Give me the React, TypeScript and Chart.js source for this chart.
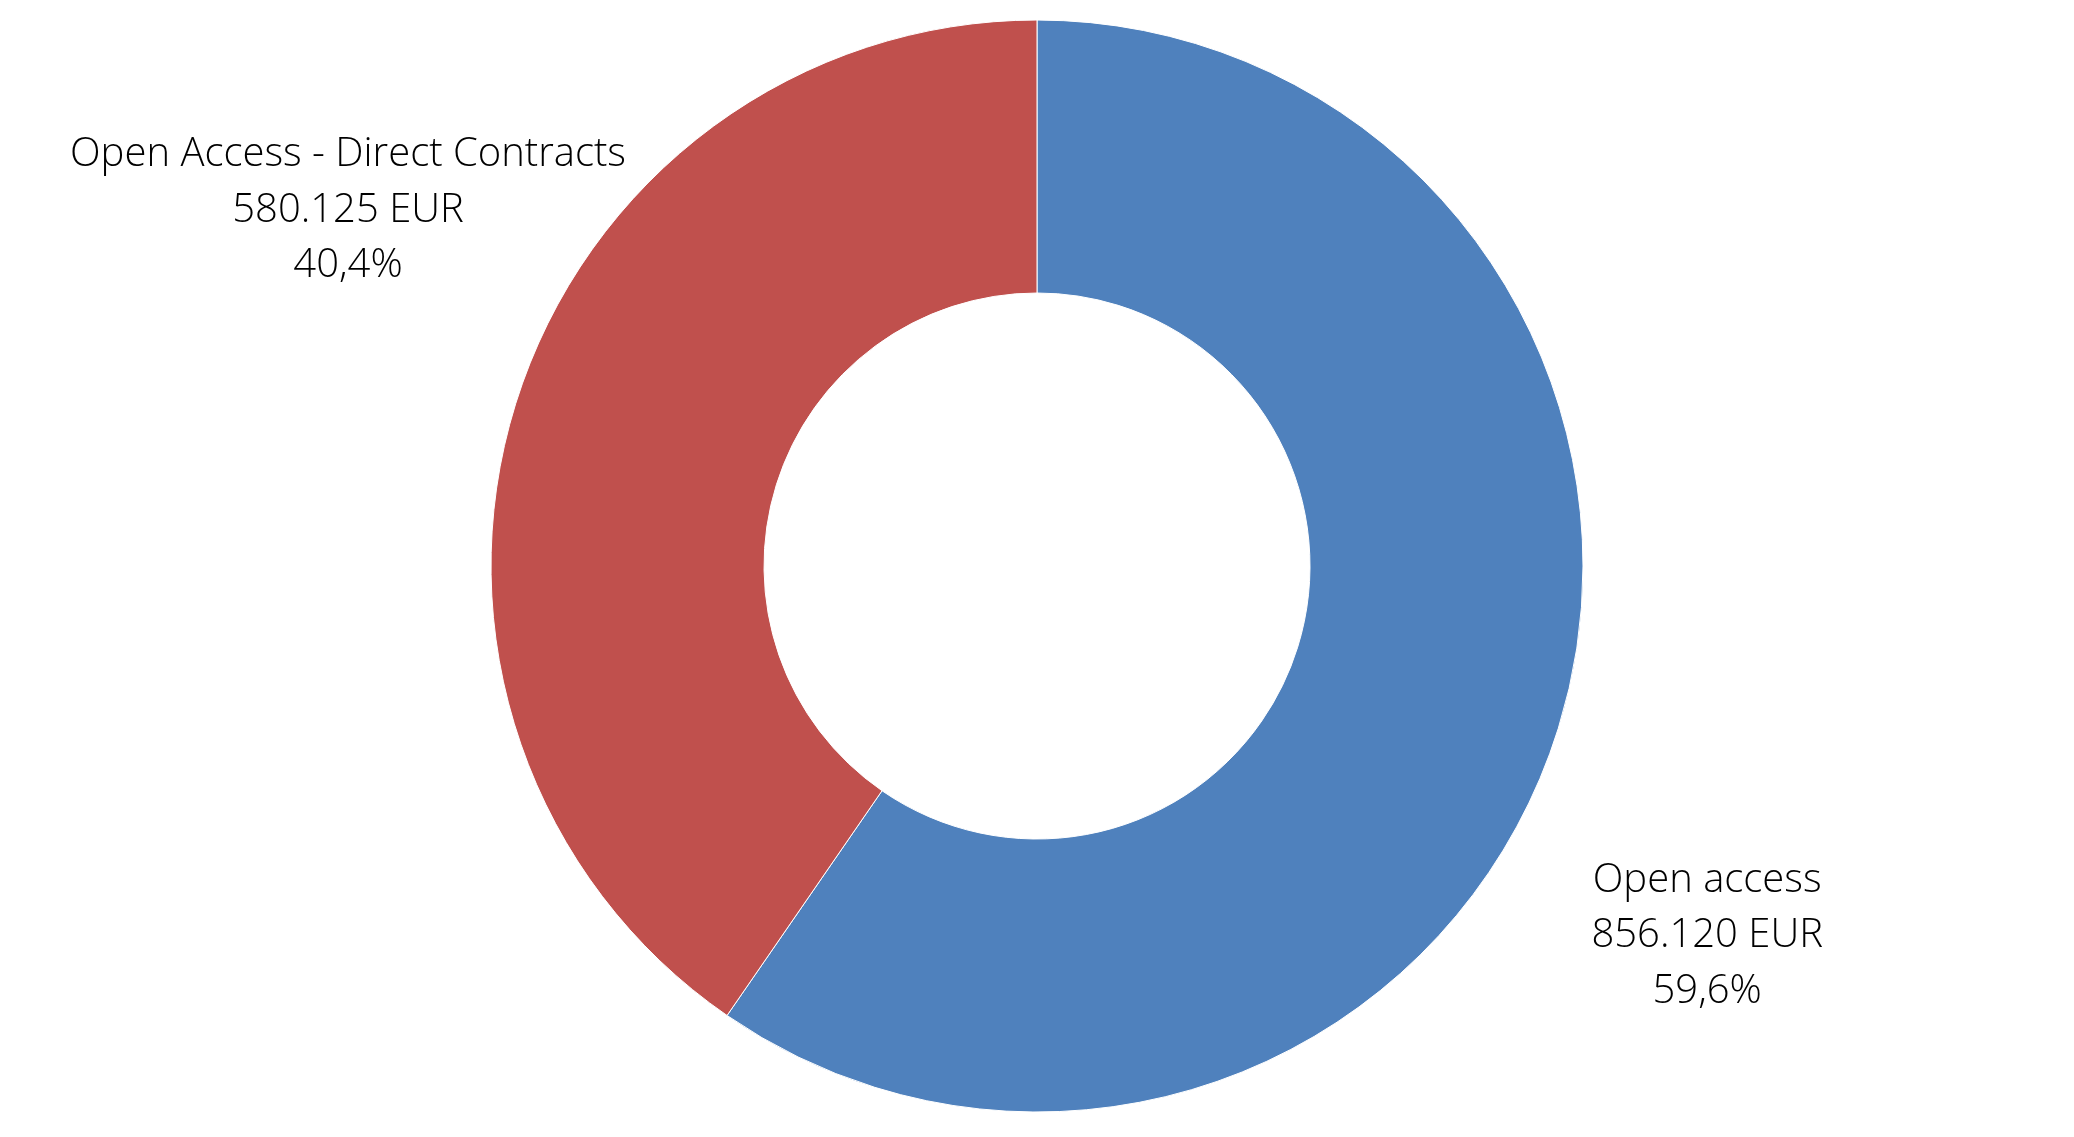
import React, { useEffect, useRef } from "react";
import { Chart, registerables } from "chart.js";

Chart.register(...registerables);

const categories = ["Open access", "Open Access - Direct Contracts"];
const amounts = [856120, 580125];
const amountLabels = ["856.120 EUR", "580.125 EUR"];
const percentLabels = ["59,6%", "40,4%"];
const colors = ["#4F81BD", "#C0504D"];

const FONT = "300 40px 'Open Sans', 'Lato', sans-serif";

const labelPlugin = {
  id: "outsideLabels",
  afterDatasetsDraw(chart: any) {
    const ctx = chart.ctx;
    const meta = chart.getDatasetMeta(0);
    const angleShift = [11.6, 10.0];
    const distFactor = [1.402, 1.42];
    ctx.save();
    ctx.font = FONT;
    ctx.fillStyle = "#000000";
    ctx.textAlign = "center";
    ctx.textBaseline = "middle";
    meta.data.forEach((arc: any, i: number) => {
      const p = arc.getProps(["x", "y", "startAngle", "endAngle", "outerRadius"], true);
      const mid = (p.startAngle + p.endAngle) / 2 + (angleShift[i] * Math.PI) / 180;
      const dist = p.outerRadius * distFactor[i];
      const cx = p.x + Math.cos(mid) * dist;
      const cy = p.y + Math.sin(mid) * dist;
      const lines = [categories[i], amountLabels[i], percentLabels[i]];
      const lh = 55.5;
      lines.forEach((t, k) => {
        ctx.fillText(t, cx, cy + (k - 1) * lh);
      });
    });
    ctx.restore();
  },
};

export default function App() {
  const ref = useRef<HTMLCanvasElement | null>(null);
  useEffect(() => {
    document.body.style.margin = "0";
    document.body.style.background = "#ffffff";
    const chart = new Chart(ref.current as HTMLCanvasElement, {
      type: "doughnut",
      data: {
        labels: categories,
        datasets: [
          {
            data: amounts,
            backgroundColor: colors,
            borderColor: "#ffffff",
            borderWidth: 1,
          },
        ],
      },
      options: {
        responsive: false,
        maintainAspectRatio: false,
        animation: false,
        radius: 546,
        cutout: "50%",
        layout: { padding: { bottom: 5 } },
        plugins: {
          legend: { display: false },
          tooltip: { enabled: false },
          title: { display: false },
        },
      } as any,
      plugins: [labelPlugin],
    });
    return () => chart.destroy();
  }, []);
  return (
    <div style={{ width: 2074, height: 1137, background: "#fff" }}>
      <canvas ref={ref} width={2074} height={1137} style={{ display: "block" }} />
    </div>
  );
}
